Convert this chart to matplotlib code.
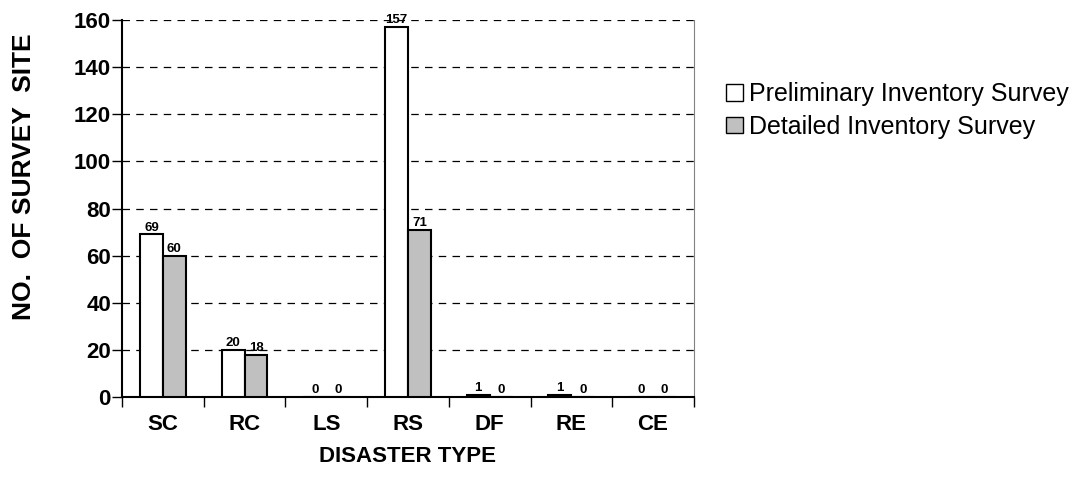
import matplotlib.pyplot as plt
import numpy as np

plt.rcParams['font.family'] = ['Liberation Sans', 'DejaVu Sans']

types = ['SC', 'RC', 'LS', 'RS', 'DF', 'RE', 'CE']
preliminary = [69, 20, 0, 157, 1, 1, 0]
detailed = [60, 18, 0, 71, 0, 0, 0]

fig = plt.figure(figsize=(10.81, 4.83), dpi=100)
ax = fig.add_axes([0.1129, 0.178, 0.529, 0.7806])

x = np.arange(len(types))
w = 0.28
b1 = ax.bar(x - w / 2, preliminary, w, color='white', edgecolor='black',
            linewidth=1.5, label='Preliminary Inventory Survey', zorder=3)
b2 = ax.bar(x + w / 2, detailed, w, color='#c0c0c0', edgecolor='black',
            linewidth=1.5, label='Detailed Inventory Survey', zorder=3)

# value labels sitting on top of each bar
for bars, vals in ((b1, preliminary), (b2, detailed)):
    for r, v in zip(bars, vals):
        ax.text(r.get_x() + r.get_width() / 2, v + 0.3, str(v), ha='center',
                va='bottom', fontsize=9.5, fontweight='bold', zorder=4)

ax.set_xlim(-0.5, len(types) - 0.5)
ax.set_ylim(0, 160)
ax.set_yticks(range(0, 161, 20))
ax.set_xticks(x)
ax.set_xticklabels(types, fontsize=16, fontweight='bold')
ax.set_xticks(np.arange(-0.5, len(types)), minor=True)
ax.tick_params(axis='x', which='major', length=0, pad=12)
ax.tick_params(axis='x', which='minor', length=7, width=1, direction='out')
ax.tick_params(axis='y', length=7, width=1, labelsize=16, pad=1)
for t in ax.get_yticklabels():
    t.set_fontweight('bold')

ax.yaxis.grid(True, linestyle=(0, (6, 5)), color='black', linewidth=0.9, zorder=0)
ax.spines['top'].set_visible(False)
ax.spines['right'].set_color('#808080')
ax.spines['right'].set_linewidth(0.8)
ax.spines['left'].set_linewidth(1.5)
ax.spines['bottom'].set_linewidth(1.5)

ax.set_xlabel('DISASTER TYPE', fontsize=16, fontweight='bold', labelpad=8)
ax.set_ylabel('NO.  OF SURVEY  SITE', fontsize=19, fontweight='bold')
ax.yaxis.set_label_coords(-0.15, 0.584)

leg = ax.legend(loc='upper left', bbox_to_anchor=(1.0175, 0.895), frameon=False,
                fontsize=18, handlelength=0.65, handleheight=0.65,
                handletextpad=0.25, labelspacing=0.35)
for h in leg.legend_handles:
    h.set_linewidth(1.0)

fig.savefig('out.png', dpi=100)
